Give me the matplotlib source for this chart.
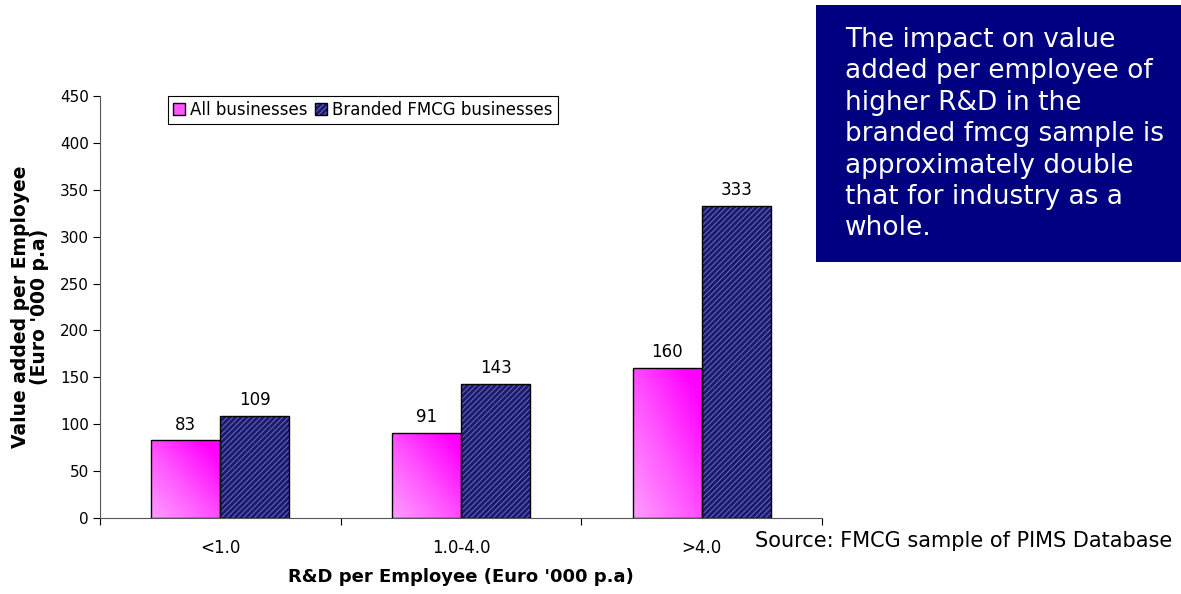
import matplotlib
matplotlib.use("Agg")
import matplotlib.pyplot as plt
import numpy as np
from matplotlib.patches import Rectangle, Patch
from matplotlib.colors import LinearSegmentedColormap
from matplotlib.legend_handler import HandlerTuple

plt.rcParams["font.family"] = ["DejaVu Sans"]
plt.rcParams["hatch.linewidth"] = 0.7

categories = ["<1.0", "1.0-4.0", ">4.0"]
all_businesses = [83, 91, 160]
branded_fmcg = [109, 143, 333]
series_names = ["All businesses", "Branded FMCG businesses"]
y_ticks = [0, 50, 100, 150, 200, 250, 300, 350, 400, 450]

note = ("The impact on value\nadded per employee of\nhigher R&D in the\n"
        "branded fmcg sample is\napproximately double\nthat for industry as a\nwhole.")
source = "Source: FMCG sample of PIMS Database"

W, H = 1181, 594
fig = plt.figure(figsize=(W / 100, H / 100), dpi=100)
ax = fig.add_axes([100 / W, (H - 518) / H, 722 / W, 422 / H])

navy = "#1a1a72"
hatch_col = "#6b6bb0"
pink_cmap = LinearSegmentedColormap.from_list("pk", ["#ff9cff", "#ff55ff", "#ff00ff"])

x = np.arange(len(categories))
w = 0.287

# pink bars with diagonal gradient
pink_bars = ax.bar(x - w / 2, all_businesses, w, color="none", edgecolor="black", linewidth=1, zorder=3)
uu, vv = np.meshgrid(np.linspace(0, 1, 60), np.linspace(0, 1, 60))
grad = np.clip((uu * 0.9 + vv * 0.9) / 1.6, 0, 1)
for b in pink_bars:
    x0, y0 = b.get_x(), b.get_y()
    im = ax.imshow(grad, cmap=pink_cmap, origin="lower", aspect="auto",
                   extent=[x0, x0 + b.get_width(), y0, y0 + b.get_height()], zorder=2)
    im.set_clip_path(b)

# navy hatched bars
ax.bar(x + w / 2, branded_fmcg, w, color=navy, edgecolor=hatch_col, hatch="//////", linewidth=0, zorder=2)
ax.bar(x + w / 2, branded_fmcg, w, fill=False, edgecolor="black", linewidth=1, zorder=3)

for xi, v in zip(x - w / 2, all_businesses):
    ax.text(xi, v + 7, str(v), ha="center", va="bottom", fontsize=12)
for xi, v in zip(x + w / 2, branded_fmcg):
    ax.text(xi, v + 7, str(v), ha="center", va="bottom", fontsize=12)

ax.set_xlim(-0.5, len(categories) - 0.5)
ax.set_ylim(0, 450)
ax.set_yticks(y_ticks)
ax.tick_params(axis="y", direction="out", length=5, width=0.8, labelsize=11, pad=3)

ax.set_xticks(np.arange(len(categories) + 1) - 0.5)
ax.set_xticklabels([])
ax.set_xticks(x, minor=True)
ax.set_xticklabels(categories, minor=True)
ax.tick_params(axis="x", which="major", direction="out", length=5, width=0.8)
ax.tick_params(axis="x", which="minor", length=0, labelsize=12, pad=15)

for s in ["top", "right"]:
    ax.spines[s].set_visible(False)
for s in ["left", "bottom"]:
    ax.spines[s].set_color("#555555")
    ax.spines[s].set_linewidth(0.8)

ax.set_xlabel("R&D per Employee (Euro '000 p.a)", fontsize=13, fontweight="bold", labelpad=8)
ax.set_ylabel("Value added per Employee\n(Euro '000 p.a)", fontsize=13.5, fontweight="bold",
              labelpad=8, linespacing=1.0)

h1 = Patch(facecolor="#ff55ff", edgecolor="black", linewidth=1)
h2a = Patch(facecolor=navy, edgecolor=hatch_col, hatch="//////", linewidth=0)
h2b = Patch(facecolor="none", edgecolor="black", linewidth=1)
leg = ax.legend([h1, (h2a, h2b)], series_names, ncol=2, loc="upper left",
                bbox_to_anchor=(0.094, 1.0), borderaxespad=0, fontsize=12,
                handler_map={tuple: HandlerTuple(ndivide=1, pad=0)},
                handlelength=0.7, handleheight=0.7, handletextpad=0.3, columnspacing=0.5,
                fancybox=False, framealpha=1, borderpad=0.3)
leg.get_frame().set_edgecolor("black")
leg.get_frame().set_linewidth(0.8)

fig.patches.append(Rectangle((816 / W, (H - 262) / H), 1 - 816 / W, 257 / H,
                             transform=fig.transFigure, facecolor="#000080",
                             edgecolor="none", zorder=0))
fig.text(845 / W, 1 - 27 / H, note, color="white", fontsize=19, va="top", ha="left",
         linespacing=1.27)
fig.text(1172 / W, 1 - 541 / H, source, fontsize=15, ha="right", va="center")

fig.savefig("out.png", dpi=100)
